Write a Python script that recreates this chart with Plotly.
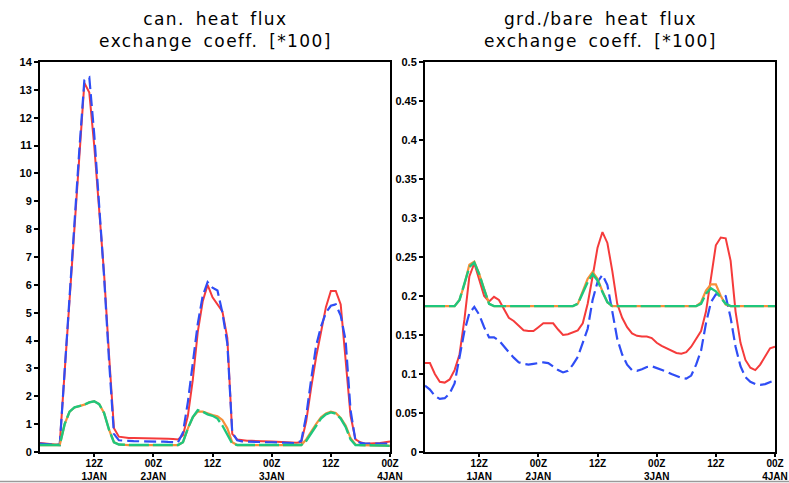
import plotly.graph_objects as go

# hours since 00Z 1 JAN
hours = list(range(1, 73))

# ---- left panel: canopy heat flux exchange coeff [*100]
can_red = [0.32, 0.30, 0.28, 0.27, 0.28, 2.9, 5.5, 8.1, 10.7, 13.25, 12.9, 11.0,
           8.7, 6.4, 3.5, 0.85, 0.55, 0.52, 0.50, 0.50, 0.50, 0.50, 0.50, 0.50,
           0.50, 0.48, 0.48, 0.47, 0.45, 0.60, 1.3, 2.6, 4.3, 5.4, 6.0, 5.55,
           5.3, 5.05, 4.1, 0.65, 0.45, 0.42, 0.40, 0.40, 0.40, 0.39, 0.38, 0.38,
           0.37, 0.36, 0.35, 0.34, 0.33, 0.35, 1.1, 2.3, 3.4, 4.3, 5.2, 5.78,
           5.78, 5.3, 3.3, 1.3, 0.45, 0.35, 0.30, 0.30, 0.30, 0.32, 0.35, 0.38]
can_blue = [0.30, 0.28, 0.27, 0.26, 0.25, 3.0, 5.7, 8.3, 10.9, 13.35, 13.45, 11.4,
            8.9, 6.3, 3.3, 0.65, 0.42, 0.40, 0.40, 0.39, 0.39, 0.38, 0.38, 0.38,
            0.37, 0.37, 0.36, 0.36, 0.35, 0.70, 1.8, 3.2, 4.6, 5.6, 6.1, 5.9,
            5.8, 5.0, 3.9, 0.70, 0.42, 0.38, 0.37, 0.37, 0.36, 0.36, 0.35, 0.35,
            0.34, 0.34, 0.33, 0.33, 0.32, 0.40, 1.3, 2.6, 3.8, 4.5, 5.0, 5.25,
            5.3, 4.9, 4.0, 1.5, 0.40, 0.33, 0.30, 0.30, 0.30, 0.30, 0.30, 0.30]
can_orange = [0.25, 0.25, 0.25, 0.25, 0.25, 1.0, 1.45, 1.6, 1.65, 1.7, 1.78, 1.82,
              1.72, 1.4, 0.8, 0.35, 0.27, 0.25, 0.25, 0.25, 0.25, 0.25, 0.25, 0.25,
              0.25, 0.25, 0.25, 0.25, 0.25, 0.35, 0.85, 1.25, 1.45, 1.45, 1.38, 1.33,
              1.28, 1.15, 0.85, 0.35, 0.25, 0.25, 0.25, 0.25, 0.25, 0.25, 0.25, 0.25,
              0.25, 0.25, 0.25, 0.25, 0.25, 0.25, 0.45, 0.75, 1.0, 1.25, 1.38, 1.45,
              1.4, 1.22, 0.95, 0.5, 0.27, 0.25, 0.25, 0.25, 0.25, 0.24, 0.23, 0.22]
can_green = [0.25, 0.25, 0.25, 0.25, 0.25, 1.0, 1.45, 1.6, 1.65, 1.7, 1.78, 1.82,
             1.72, 1.4, 0.8, 0.35, 0.27, 0.25, 0.25, 0.25, 0.25, 0.25, 0.25, 0.25,
             0.25, 0.25, 0.25, 0.25, 0.25, 0.35, 0.85, 1.25, 1.5, 1.45, 1.35, 1.3,
             1.2, 0.95, 0.6, 0.3, 0.25, 0.25, 0.25, 0.25, 0.25, 0.25, 0.25, 0.25,
             0.25, 0.25, 0.25, 0.25, 0.25, 0.25, 0.4, 0.68, 0.95, 1.2, 1.35, 1.42,
             1.38, 1.2, 0.9, 0.45, 0.25, 0.25, 0.25, 0.25, 0.25, 0.24, 0.23, 0.22]

# ---- right panel: ground/bare heat flux exchange coeff [*100]
grd_red = [0.114, 0.114, 0.100, 0.090, 0.089, 0.093, 0.105, 0.125, 0.170, 0.225, 0.242, 0.220,
           0.200, 0.193, 0.199, 0.195, 0.183, 0.172, 0.168, 0.162, 0.156, 0.155, 0.155, 0.160,
           0.165, 0.165, 0.165, 0.157, 0.150, 0.151, 0.153, 0.156, 0.165, 0.190, 0.225, 0.262,
           0.282, 0.268, 0.232, 0.190, 0.172, 0.160, 0.152, 0.149, 0.148, 0.148, 0.146, 0.140,
           0.136, 0.133, 0.130, 0.127, 0.126, 0.128, 0.135, 0.145, 0.155, 0.180, 0.225, 0.265,
           0.275, 0.274, 0.245, 0.180, 0.140, 0.118, 0.108, 0.105, 0.112, 0.122, 0.133, 0.135]
grd_blue = [0.085, 0.080, 0.072, 0.068, 0.069, 0.075, 0.088, 0.120, 0.155, 0.178, 0.186, 0.176,
            0.160, 0.147, 0.147, 0.143, 0.135, 0.128, 0.121, 0.115, 0.113, 0.112, 0.113, 0.114,
            0.115, 0.114, 0.109, 0.105, 0.102, 0.104, 0.112, 0.122, 0.140, 0.158, 0.195, 0.218,
            0.227, 0.214, 0.180, 0.145, 0.125, 0.112, 0.105, 0.104, 0.106, 0.109, 0.110, 0.108,
            0.105, 0.103, 0.100, 0.097, 0.095, 0.094, 0.098, 0.112, 0.130, 0.165, 0.192, 0.202,
            0.202, 0.200, 0.172, 0.135, 0.110, 0.096, 0.090, 0.087, 0.086, 0.087, 0.089, 0.092]
grd_orange = [0.187, 0.187, 0.187, 0.187, 0.187, 0.187, 0.187, 0.195, 0.215, 0.240, 0.244, 0.228,
              0.208, 0.190, 0.187, 0.187, 0.187, 0.187, 0.187, 0.187, 0.187, 0.187, 0.187, 0.187,
              0.187, 0.187, 0.187, 0.187, 0.187, 0.187, 0.187, 0.190, 0.205, 0.222, 0.231, 0.222,
              0.206, 0.192, 0.187, 0.187, 0.187, 0.187, 0.187, 0.187, 0.187, 0.187, 0.187, 0.187,
              0.187, 0.187, 0.187, 0.187, 0.187, 0.187, 0.187, 0.187, 0.192, 0.207, 0.215, 0.215,
              0.200, 0.189, 0.187, 0.187, 0.187, 0.187, 0.187, 0.187, 0.187, 0.187, 0.187, 0.187]
grd_green = [0.187, 0.187, 0.187, 0.187, 0.187, 0.187, 0.187, 0.195, 0.215, 0.237, 0.243, 0.228,
             0.208, 0.190, 0.187, 0.187, 0.187, 0.187, 0.187, 0.187, 0.187, 0.187, 0.187, 0.187,
             0.187, 0.187, 0.187, 0.187, 0.187, 0.187, 0.187, 0.190, 0.203, 0.218, 0.228, 0.220,
             0.205, 0.192, 0.187, 0.187, 0.187, 0.187, 0.187, 0.187, 0.187, 0.187, 0.187, 0.187,
             0.187, 0.187, 0.187, 0.187, 0.187, 0.187, 0.187, 0.187, 0.190, 0.203, 0.210, 0.206,
             0.198, 0.190, 0.187, 0.187, 0.187, 0.187, 0.187, 0.187, 0.187, 0.187, 0.187, 0.187]

x_tickvals = [12, 24, 36, 48, 60, 72]
x_ticktext = ["12Z<br>1JAN", "00Z<br>2JAN", "12Z", "00Z<br>3JAN", "12Z", "00Z<br>4JAN"]
left_yticks = list(range(0, 15))
right_yticks = [0, 0.05, 0.1, 0.15, 0.2, 0.25, 0.3, 0.35, 0.4, 0.45, 0.5]
right_yticktext = ["0", "0.05", "0.1", "0.15", "0.2", "0.25", "0.3", "0.35", "0.4", "0.45", "0.5"]
titles = ["can. heat flux<br>exchange coeff. [*100]",
          "grd./bare heat flux<br>exchange coeff. [*100]"]

RED = "#f53b3b"
BLUE = "#2f4df5"
ORANGE = "#f7903a"
GREEN = "#1fc67c"

W, H = 789, 483
def px(x):
    return x / W
def py(y):
    return (H - y) / H

fig = go.Figure()

def add_panel(xa, ya, red, blue, orange, green):
    fig.add_trace(go.Scatter(x=hours, y=red, mode="lines", line=dict(color=RED, width=2),
                             xaxis=xa, yaxis=ya, showlegend=False))
    fig.add_trace(go.Scatter(x=hours, y=blue, mode="lines",
                             line=dict(color=BLUE, width=2.2, dash="12px,5px"),
                             xaxis=xa, yaxis=ya, showlegend=False))
    fig.add_trace(go.Scatter(x=hours, y=orange, mode="lines", line=dict(color=ORANGE, width=2.2),
                             xaxis=xa, yaxis=ya, showlegend=False))
    fig.add_trace(go.Scatter(x=hours, y=green, mode="lines",
                             line=dict(color=GREEN, width=2.4, dash="20px,4px"),
                             xaxis=xa, yaxis=ya, showlegend=False))

add_panel("x", "y", can_red, can_blue, can_orange, can_green)
add_panel("x2", "y2", grd_red, grd_blue, grd_orange, grd_green)

ytickfont = dict(family="Liberation Sans Narrow, Liberation Sans, Arial", size=11, color="black", weight="bold")
xtickfont = dict(family="Liberation Sans Narrow, Liberation Sans, Arial", size=10, color="black", weight="bold")
axis_common = dict(showline=True, linecolor="black", linewidth=2, mirror=True,
                   ticks="outside", tickwidth=1.5, tickcolor="black",
                   showgrid=False, zeroline=False, automargin=False)
xaxis_common = dict(ticklen=3, tickfont=xtickfont, ticklabelstandoff=-2, **axis_common)
yaxis_common = dict(ticklen=4, tickfont=ytickfont, **axis_common)

ydom = [py(452), py(62)]
fig.update_layout(
    width=W, height=H,
    margin=dict(l=0, r=0, t=0, b=0),
    paper_bgcolor="white", plot_bgcolor="white",
    xaxis=dict(domain=[px(40), px(390)], range=[1, 72], tickvals=x_tickvals, ticktext=x_ticktext,
               anchor="y", **xaxis_common),
    yaxis=dict(domain=ydom, range=[0, 14], tickvals=left_yticks, anchor="x", **yaxis_common),
    xaxis2=dict(domain=[px(425), px(775)], range=[1, 72], tickvals=x_tickvals, ticktext=x_ticktext,
                anchor="y2", **xaxis_common),
    yaxis2=dict(domain=ydom, range=[0, 0.5], tickvals=right_yticks, ticktext=right_yticktext,
                anchor="x2", **yaxis_common),
)

title_font = dict(family="DejaVu Sans", size=17, color="black")
for cx, t in [((40 + 390) / 2, titles[0]), ((425 + 775) / 2, titles[1])]:
    fig.add_annotation(x=px(cx), y=py(7), xref="paper", yref="paper", text=t,
                       showarrow=False, xanchor="center", yanchor="top", font=title_font,
                       align="center")

fig.add_shape(type="line", xref="paper", yref="paper", x0=0, x1=1, y0=py(481.5), y1=py(481.5),
              line=dict(color="#9a9a9a", width=1.5))

post = (
    "document.body.style.margin='0';document.body.style.padding='0';"
    "document.body.style.overflow='hidden';"
    "document.querySelectorAll('.annotation-text').forEach(function(e){"
    "e.style.letterSpacing='1.4px';e.style.wordSpacing='4px';});"
)
fig.write_html("out.html", config={"displayModeBar": False}, post_script=post)
